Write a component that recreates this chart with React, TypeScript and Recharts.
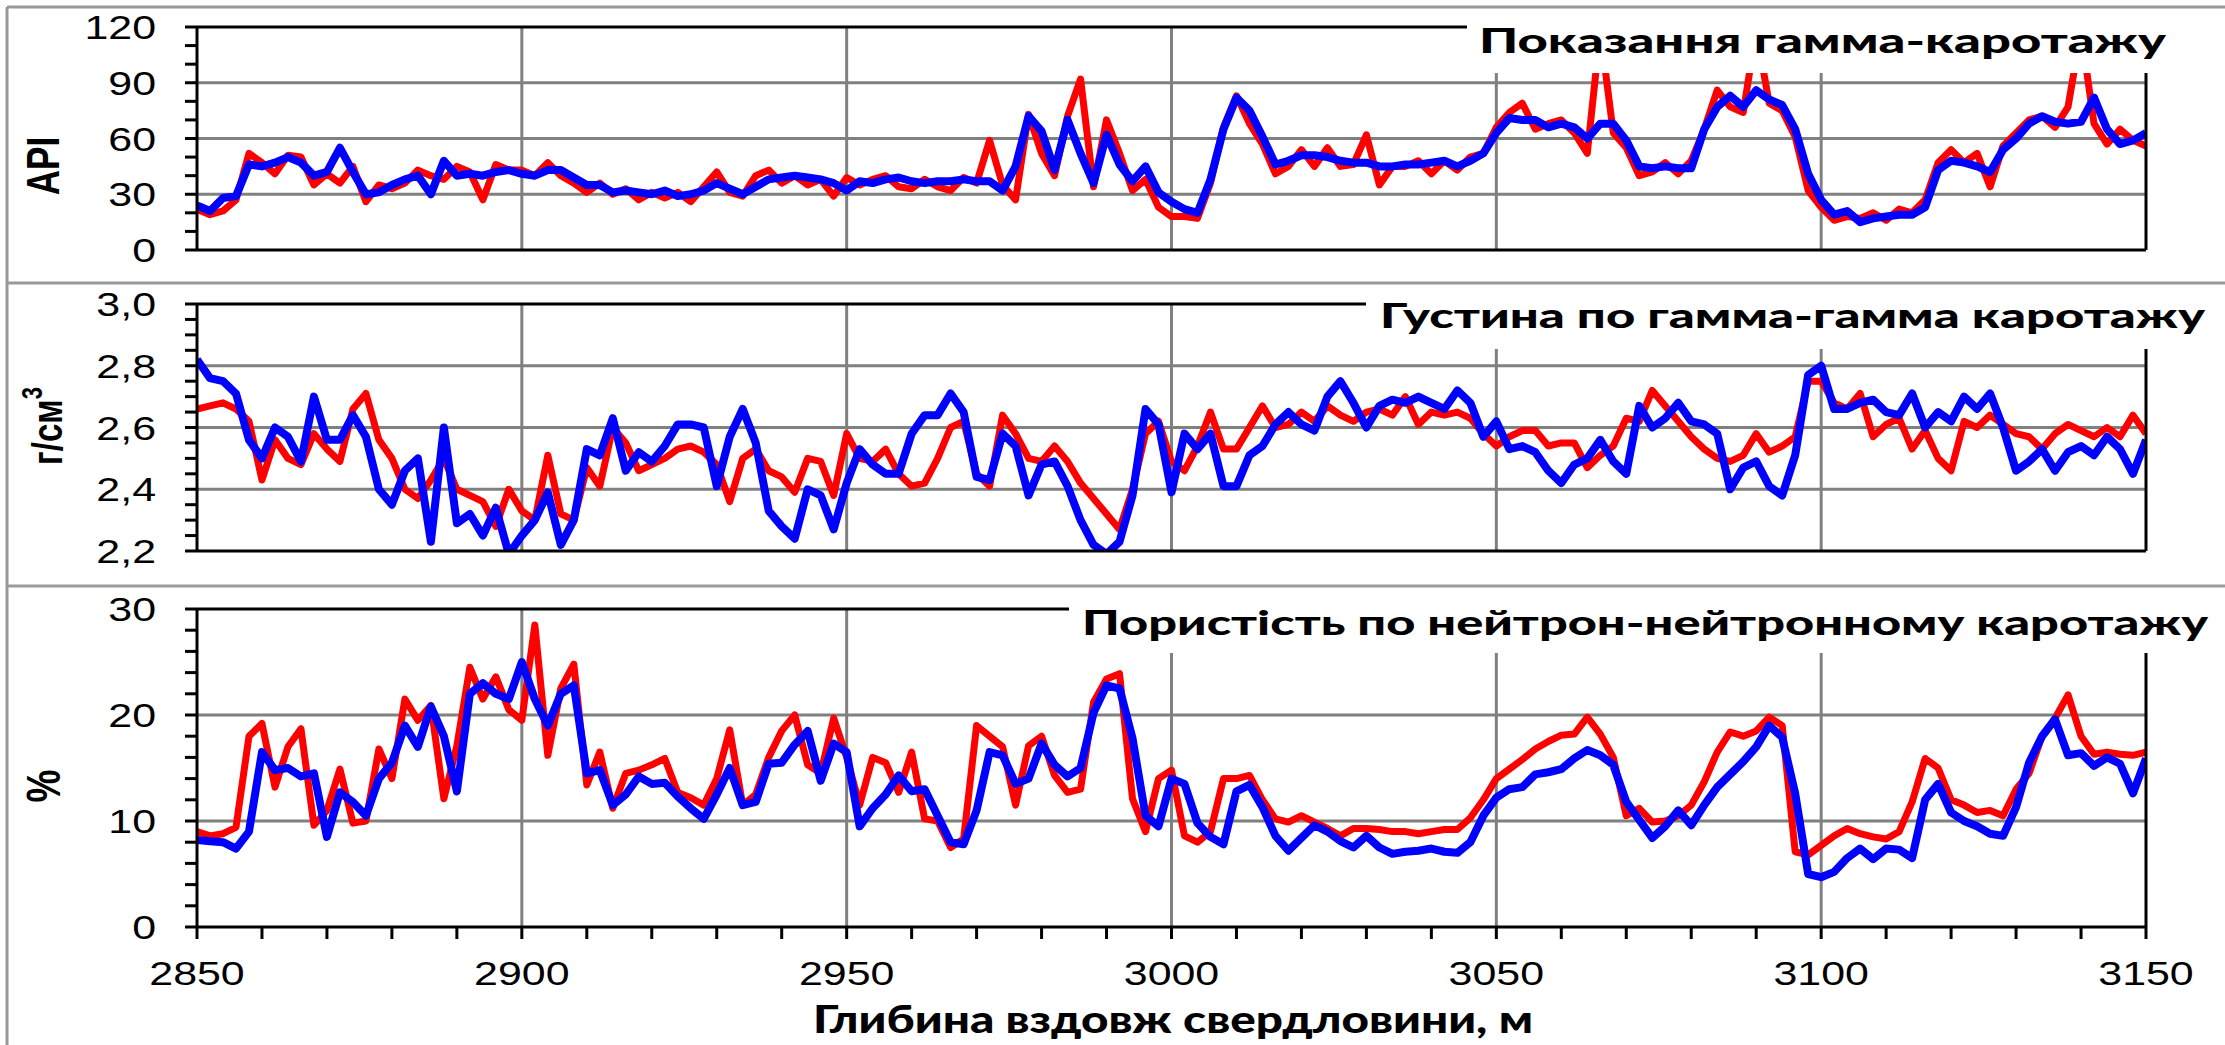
import React from "react";
import { LineChart, Line, XAxis, YAxis, CartesianGrid } from "recharts";

// depth grid, m (2 m step)
const depth = Array.from({ length: 151 }, (_, i) => 2850 + i * 2);

// gamma log, API
const apiRed = [
  22, 19, 21, 27, 52, 47, 41, 51, 50, 35, 41, 36, 45, 26, 35, 33, 36, 43, 40, 38,
  45, 42, 27, 46, 43, 43, 40, 47, 40, 36, 31, 36, 30, 33, 27, 31, 28, 31, 26, 34,
  42, 31, 29, 40, 43, 36, 40, 35, 38, 29, 39, 35, 38, 40, 34, 33, 38, 34, 32, 39,
  36, 59, 35, 27, 73, 52, 40, 72, 92, 34, 70, 52, 32, 38, 23, 18,
  18, 17, 36, 66, 83, 68, 57, 41, 45, 54, 45, 55, 45, 46, 62, 35, 45, 45, 48, 41,
  48, 43, 50, 52, 66, 74, 79, 65, 68, 70, 63, 52, 118, 63, 55, 40, 42, 47, 41, 48,
  65, 86, 77, 74, 118, 79, 75, 61, 32, 23, 16, 18, 17, 20, 16, 22, 20, 27, 47, 54,
  47, 52, 34, 56, 63, 70, 72, 66, 77, 118, 68, 57, 65, 59, 56,
];
const apiBlue = [
  24, 21, 28, 29, 46, 45, 47, 50, 47, 40, 42, 55, 42, 30, 31, 35, 38, 40, 30, 48,
  40, 41, 40, 42, 43, 41, 40, 43, 43, 39, 35, 35, 31, 32, 31, 30, 32, 29, 30, 32,
  36, 33, 30, 34, 38, 39, 40, 39, 38, 36, 32, 37, 36, 38, 39, 37, 36, 37, 37, 38,
  37, 37, 32, 45, 72, 64, 43, 70, 52, 36, 62, 46, 37, 45, 31, 26,
  22, 20, 38, 65, 82, 75, 61, 46, 48, 51, 51, 50, 48, 47, 47, 45, 45, 46, 46, 47,
  48, 45, 48, 52, 63, 71, 70, 70, 66, 68, 66, 60, 68, 68, 59, 45, 44, 45, 44, 44,
  65, 77, 83, 77, 86, 81, 78, 65, 41, 27, 19, 21, 15, 17, 18, 19, 19, 23, 43, 48,
  47, 45, 42, 54, 60, 68, 72, 69, 68, 69, 82, 65, 57, 59, 63,
];

// gamma-gamma density, g/cm3
const rhoRed = [
  2.66, 2.67, 2.68, 2.66, 2.62, 2.43, 2.56, 2.5, 2.48, 2.58, 2.53, 2.49, 2.66, 2.71, 2.56, 2.5, 2.4, 2.37, 2.43, 2.5,
  2.4, 2.38, 2.36, 2.28, 2.4, 2.33, 2.3, 2.51, 2.32, 2.3, 2.47, 2.41, 2.6, 2.55, 2.46, 2.48, 2.5, 2.53, 2.54, 2.52,
  2.48, 2.36, 2.5, 2.53, 2.46, 2.44, 2.39, 2.5, 2.49, 2.38, 2.58, 2.5, 2.49, 2.53, 2.45, 2.41, 2.42, 2.5, 2.6, 2.62,
  2.45, 2.41, 2.64, 2.58, 2.5, 2.49, 2.54, 2.49, 2.42, 2.37, 2.32, 2.27, 2.4, 2.58, 2.62, 2.49,
  2.46, 2.54, 2.65, 2.53, 2.53, 2.6, 2.67, 2.6, 2.61, 2.65, 2.62, 2.67, 2.64, 2.62, 2.65, 2.66, 2.64, 2.7, 2.61, 2.65,
  2.64, 2.65, 2.63, 2.58, 2.54, 2.57, 2.59, 2.59, 2.54, 2.55, 2.55, 2.47, 2.51, 2.54, 2.63, 2.62, 2.72, 2.67, 2.62, 2.57,
  2.53, 2.5, 2.49, 2.51, 2.58, 2.52, 2.54, 2.57, 2.75, 2.75, 2.68, 2.66, 2.71, 2.57, 2.61, 2.63, 2.53, 2.59, 2.5, 2.46,
  2.62, 2.6, 2.64, 2.61, 2.58, 2.57, 2.53, 2.58, 2.61, 2.59, 2.57, 2.6, 2.57, 2.64, 2.58,
];
const rhoBlue = [
  2.82, 2.76, 2.75, 2.71, 2.56, 2.5, 2.6, 2.57, 2.49, 2.7, 2.56, 2.56, 2.64, 2.57, 2.4, 2.35, 2.46, 2.5, 2.23, 2.6,
  2.29, 2.32, 2.25, 2.34, 2.19, 2.25, 2.3, 2.39, 2.22, 2.3, 2.53, 2.51, 2.63, 2.46, 2.52, 2.49, 2.54, 2.61, 2.61, 2.6,
  2.41, 2.57, 2.66, 2.55, 2.33, 2.28, 2.24, 2.4, 2.38, 2.27, 2.42, 2.53, 2.48, 2.45, 2.45, 2.58, 2.64, 2.64, 2.71, 2.65,
  2.44, 2.43, 2.58, 2.54, 2.38, 2.48, 2.49, 2.41, 2.3, 2.22, 2.19, 2.23, 2.38, 2.66, 2.61, 2.39,
  2.58, 2.53, 2.58, 2.41, 2.41, 2.51, 2.54, 2.61, 2.65, 2.61, 2.59, 2.7, 2.75, 2.68, 2.6, 2.67, 2.69, 2.68, 2.7, 2.68,
  2.66, 2.72, 2.68, 2.57, 2.62, 2.53, 2.54, 2.52, 2.46, 2.42, 2.48, 2.5, 2.56, 2.49, 2.45, 2.67, 2.6, 2.63, 2.68, 2.62,
  2.61, 2.58, 2.4, 2.47, 2.49, 2.41, 2.38, 2.51, 2.77, 2.8, 2.66, 2.66, 2.68, 2.69, 2.65, 2.64, 2.71, 2.6, 2.65, 2.62,
  2.7, 2.66, 2.71, 2.6, 2.46, 2.49, 2.53, 2.46, 2.52, 2.54, 2.51, 2.57, 2.53, 2.45, 2.56,
];

// neutron porosity, %
const phiRed = [
  9, 8.6, 8.8, 9.4, 18, 19.2, 13.2, 17, 18.7, 9.6, 11, 14.9, 9.8, 10, 16.8, 14, 21.5, 19.5, 20.9, 12.1,
  17.1, 24.5, 21.5, 23.6, 20.5, 19.5, 28.5, 16.2, 22.5, 24.8, 13.4, 16.5, 11.2, 14.5, 14.8, 15.3, 15.9, 12.7, 12.2, 11.5,
  14, 18.6, 11.5, 12.5, 16, 18.5, 20, 15.3, 14.5, 19.7, 16, 11.5, 16, 15.5, 12.7, 16.5, 10.2, 10, 7.5, 8.3,
  19, 18, 17, 11.5, 17.1, 18, 14.3, 12.7, 13, 21.2, 23.4, 23.9, 12.1, 9, 14, 14.8,
  8.6, 8, 9, 14, 14, 14.3, 12, 10.2, 9.9, 10.5, 9.9, 9.3, 8.6, 9.3, 9.3, 9.2, 9, 9, 8.8, 9,
  9.2, 9.2, 10.3, 12, 14, 14.9, 15.8, 16.8, 17.5, 18.1, 18.2, 19.8, 18.2, 16, 10.5, 11.2, 9.9, 10, 10.5, 11.5,
  13.7, 16.5, 18.4, 18, 18.5, 19.8, 19, 7.1, 6.8, 7.7, 8.6, 9.3, 8.8, 8.5, 8.3, 9, 11.8, 15.9, 15, 12,
  11.5, 10.8, 11, 10.5, 13, 14.5, 18, 19.7, 21.9, 18, 16.3, 16.5, 16.3, 16.2, 16.5,
];
const phiBlue = [
  8.2, 8.1, 8, 7.4, 9, 16.5, 14.8, 15, 14.2, 14.5, 8.5, 12.7, 11.8, 10.5, 14, 15.5, 19, 17, 20.8, 18,
  12.8, 22, 23, 22, 21.5, 25, 21.5, 19, 22, 22.8, 14.5, 14.8, 11.5, 12.5, 14.2, 13.5, 13.6, 12.3, 11.2, 10.2,
  12.5, 15, 11.5, 11.8, 15.4, 15.5, 17.2, 18.5, 13.8, 17.3, 16.5, 9.5, 11.2, 12.5, 14.3, 12.8, 13, 10.5, 8, 7.8,
  11, 16.5, 16.2, 13.5, 14, 17.3, 15.3, 14.2, 15, 20.2, 22.8, 22.5, 17.8, 10.5, 9.5, 14,
  13.5, 9.8, 8.5, 7.8, 12.8, 13.4, 11.3, 8.6, 7.2, 8.4, 9.6, 9, 8.1, 7.5, 8.6, 7.5, 6.9, 7.1, 7.2, 7.4,
  7.1, 7, 8, 10.5, 12.2, 13, 13.2, 14.4, 14.6, 14.9, 15.9, 16.7, 16.2, 15.3, 11.8, 10.1, 8.4, 9.5, 11, 9.6,
  11.5, 13.2, 14.4, 15.6, 17, 19, 17.9, 12.6, 5, 4.7, 5.2, 6.5, 7.4, 6.4, 7.4, 7.3, 6.5, 12, 13.5, 10.8,
  10, 9.5, 8.8, 8.6, 11.3, 15.5, 18, 19.6, 16.2, 16.4, 15.2, 16, 15.4, 12.6, 15.9,
];

const xTicks = Array.from({ length: 31 }, (_, i) => 2850 + i * 10);
const xLabels = [2850, 2900, 2950, 3000, 3050, 3100, 3150];
const xGrid = [2900, 2950, 3000, 3050, 3100];

const apiTicks = [0, 10, 20, 30, 40, 50, 60, 70, 80, 90, 100, 110, 120];
const apiLabels = [0, 30, 60, 90, 120];
const rhoTicks = [2.2, 2.25, 2.3, 2.35, 2.4, 2.45, 2.5, 2.55, 2.6, 2.65, 2.7, 2.75, 2.8, 2.85, 2.9, 2.95, 3.0];
const rhoLabels = [2.2, 2.4, 2.6, 2.8, 3.0];
const phiTicks = [0, 2, 4, 6, 8, 10, 12, 14, 16, 18, 20, 22, 24, 26, 28, 30];
const phiLabels = [0, 10, 20, 30];

const W = 2225;
const NUM_FONT = "'Liberation Sans', Arial, sans-serif";
const TITLE_FONT = "Lato, 'Open Sans', 'Noto Sans', sans-serif";
const axisStyle = { stroke: "#000", strokeWidth: 3 };
const tickStyle = { stroke: "#000", strokeWidth: 3 };

function YTick(props: any) {
  const { y, payload, labels, fmt } = props;
  const v = payload.value;
  if (!labels.some((l: number) => Math.abs(l - v) < 1e-6)) return <g />;
  return (
    <text transform={`translate(156,${y + 12}) scale(1.3,1)`} textAnchor="end" fontFamily={NUM_FONT} fontSize={33} fill="#000">
      {fmt(v)}
    </text>
  );
}

function XTick(props: any) {
  const { x, payload, show } = props;
  if (!show || !xLabels.includes(payload.value)) return <g />;
  return (
    <text transform={`translate(${x},399) scale(1.3,1)`} textAnchor="middle" fontFamily={NUM_FONT} fontSize={33} fill="#000">
      {payload.value}
    </text>
  );
}

function Panel(props: any) {
  const { top, height, plotTop, plotBottom, red, blue, domain, ticks, labels, grid, fmt, showX } = props;
  const rows = depth.map((d, i) => ({ depth: d, red: red[i], blue: blue[i] }));
  const xH = showX ? 60 : 1;
  const mTop = plotTop - top - 1;
  const mBottom = top + height - plotBottom - xH;
  return (
    <div style={{ position: "absolute", left: 0, top, width: W, height, zIndex: 1 }}>
      <LineChart width={W} height={height} data={rows} margin={{ top: mTop, right: 78, bottom: mBottom, left: 137 }}>
        <CartesianGrid stroke="#808080" strokeWidth={3} horizontalValues={grid} verticalValues={xGrid} />
        <XAxis
          dataKey="depth"
          type="number"
          domain={[2850, 3150]}
          ticks={xTicks}
          interval={0}
          height={xH}
          allowDataOverflow
          axisLine={axisStyle}
          tickLine={showX ? tickStyle : false}
          tickSize={12}
          tick={(p: any) => <XTick {...p} show={showX} />}
        />
        <XAxis xAxisId="top" orientation="top" dataKey="depth" type="number" domain={[2850, 3150]} height={1} tick={false} tickLine={false} axisLine={axisStyle} />
        <YAxis
          domain={domain}
          ticks={ticks}
          interval={0}
          width={60}
          allowDataOverflow
          axisLine={axisStyle}
          tickLine={tickStyle}
          tickSize={12}
          tick={(p: any) => <YTick {...p} labels={labels} fmt={fmt} />}
        />
        <YAxis yAxisId="right" orientation="right" domain={[0, 1]} width={1} tick={false} tickLine={false} axisLine={axisStyle} />
        <Line dataKey="red" stroke="#ff0000" strokeWidth={7} strokeLinejoin="round" dot={false} isAnimationActive={false} />
        <Line dataKey="blue" stroke="#0000ff" strokeWidth={8} strokeLinejoin="round" dot={false} isAnimationActive={false} />
      </LineChart>
    </div>
  );
}

const intFmt = (v: number) => String(v);
const rhoFmt = (v: number) => v.toFixed(1).replace(".", ",");

export default function App() {
  return (
    <div style={{ position: "absolute", left: 0, top: 0, width: W, height: 1045, background: "#fff", overflow: "hidden" }}>
      <Panel top={0} height={283} plotTop={27} plotBottom={250} red={apiRed} blue={apiBlue} domain={[0, 120]} ticks={apiTicks} labels={apiLabels} grid={[30, 60, 90]} fmt={intFmt} />
      <Panel top={283} height={303} plotTop={304} plotBottom={551} red={rhoRed} blue={rhoBlue} domain={[2.2, 3.0]} ticks={rhoTicks} labels={rhoLabels} grid={[2.4, 2.6, 2.8]} fmt={rhoFmt} />
      <Panel top={586} height={459} plotTop={609} plotBottom={927} red={phiRed} blue={phiBlue} domain={[0, 30]} ticks={phiTicks} labels={phiLabels} grid={[10, 20]} fmt={intFmt} showX />
      <svg width={W} height={1045} style={{ position: "absolute", left: 0, top: 0, pointerEvents: "none", zIndex: 10 }}>
        <g stroke="#999" strokeWidth={3} fill="none">
          <line x1={7} y1={7} x2={W} y2={7} />
          <line x1={7} y1={7} x2={7} y2={1045} />
          <line x1={7} y1={283} x2={W} y2={283} />
          <line x1={7} y1={586} x2={W} y2={586} />
        </g>
        <rect x={1467} y={12} width={W - 1467} height={61} fill="#fff" />
        <rect x={1366} y={290} width={W - 1366} height={59} fill="#fff" />
        <rect x={1069} y={595} width={W - 1069} height={58} fill="#fff" />
        <g fontFamily={TITLE_FONT} fontWeight={900} fontSize={35} fill="#000">
          <text x={1479} y={53} textLength={687} lengthAdjust="spacingAndGlyphs">Показання  гамма-каротажу</text>
          <text x={1380} y={328} textLength={825} lengthAdjust="spacingAndGlyphs">Густина по гамма-гамма каротажу</text>
          <text x={1082} y={635} textLength={1126} lengthAdjust="spacingAndGlyphs">Пористість по нейтрон-нейтронному каротажу</text>
          <text x={813} y={1033} fontSize={37} textLength={720} lengthAdjust="spacingAndGlyphs">Глибина вздовж свердловини, м</text>
        </g>
        <g fontFamily={NUM_FONT} fontWeight={700} fill="#000" textAnchor="middle" dominantBaseline="central">
          <text transform="translate(43,166) rotate(-90) scale(1,1.3)" fontSize={35}>API</text>
          <text transform="translate(47,426) rotate(-90) scale(1,1.3)" fontSize={33}>
            г/см<tspan dy={-12} fontSize={22}>3</tspan>
          </text>
          <text transform="translate(43,786) rotate(-90) scale(1,1.3)" fontSize={37}>%</text>
        </g>
      </svg>
    </div>
  );
}
